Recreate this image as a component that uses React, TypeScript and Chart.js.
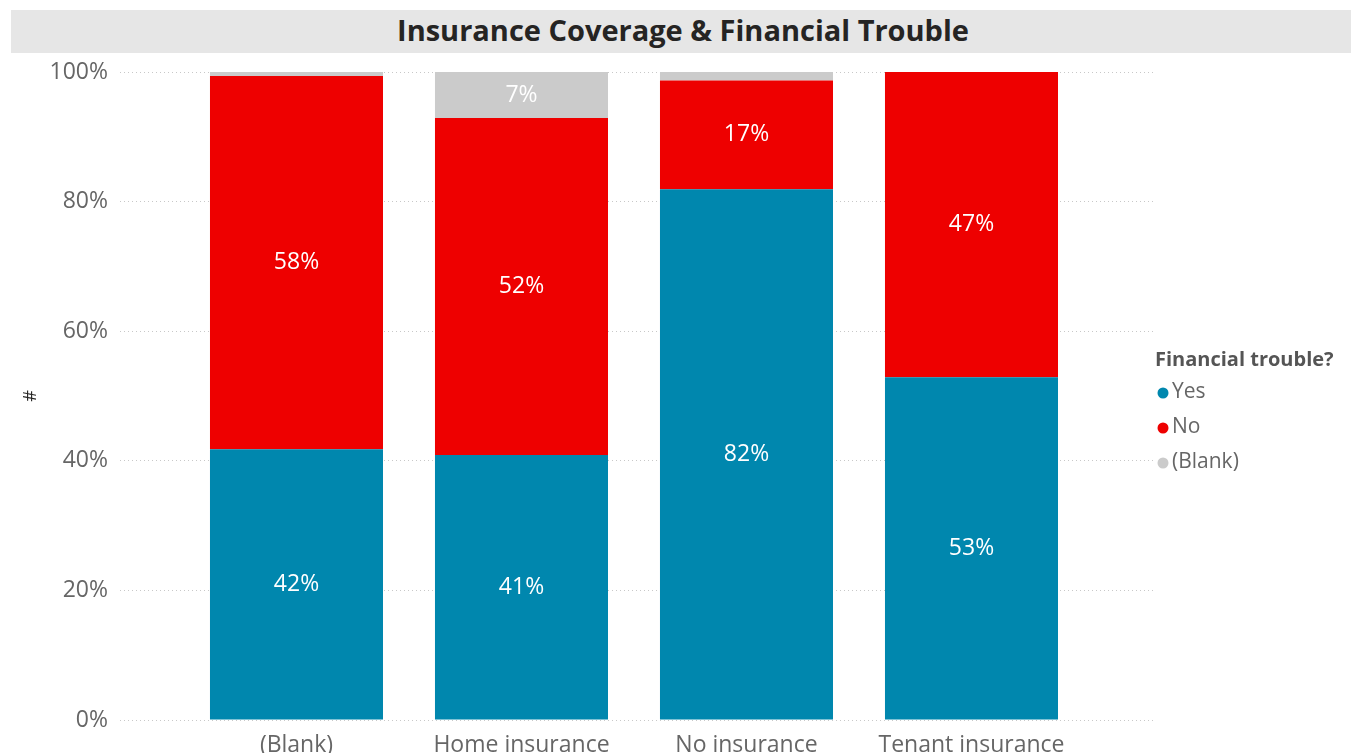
import React, { useEffect, useRef } from 'react';
import { Chart, registerables } from 'chart.js';

Chart.register(...registerables);

const chartTitle = 'Insurance Coverage & Financial Trouble';
const legendTitle = 'Financial trouble?';
const yAxisTitle = '#';
const categories = ['(Blank)', 'Home insurance', 'No insurance', 'Tenant insurance'];
const seriesNames = ['Yes', 'No', '(Blank)'];
const yesValues = [41.8, 40.9, 81.9, 52.9];
const noValues = [57.6, 52.0, 16.8, 47.1];
const blankValues = [0.6, 7.1, 1.3, 0];
const seriesColors = ['#0087AE', '#EE0000', '#CBCBCB'];
const yTicks = [0, 20, 40, 60, 80, 100];

const FONT = '"Segoe UI", "Open Sans", sans-serif';

const dataLabelPlugin = {
  id: 'dataLabels',
  afterDatasetsDraw(chart: any) {
    const ctx = chart.ctx;
    ctx.save();
    ctx.font = `23px ${FONT}`;
    ctx.fillStyle = '#FFFFFF';
    ctx.textAlign = 'center';
    ctx.textBaseline = 'middle';
    chart.data.datasets.forEach((ds: any, i: number) => {
      const meta = chart.getDatasetMeta(i);
      meta.data.forEach((el: any, j: number) => {
        const v = ds.data[j].y;
        if (v < 5) return;
        const cy = (el.y + el.base) / 2;
        ctx.fillText(Math.round(v) + '%', el.x, cy);
      });
    });
    ctx.restore();
  },
};

const legendPlugin = {
  id: 'customLegend',
  afterDraw(chart: any) {
    const ctx = chart.ctx;
    const x0 = chart.chartArea.right;
    ctx.save();
    ctx.textBaseline = 'middle';
    ctx.textAlign = 'left';
    ctx.font = `bold 20px ${FONT}`;
    ctx.fillStyle = '#555555';
    ctx.fillText(legendTitle, x0, 307);
    ctx.font = `21px ${FONT}`;
    seriesNames.forEach((name, i) => {
      const cy = 339 + i * 35;
      ctx.beginPath();
      ctx.arc(x0 + 8, cy + 1, 5.5, 0, Math.PI * 2);
      ctx.fillStyle = seriesColors[i];
      ctx.fill();
      ctx.fillStyle = '#666666';
      ctx.fillText(name, x0 + 17, cy);
    });
    ctx.restore();
  },
};

export default function App() {
  const canvasRef = useRef<HTMLCanvasElement | null>(null);

  useEffect(() => {
    if (!canvasRef.current) return;
    const seriesValues = [yesValues, noValues, blankValues];
    const chart = new Chart(canvasRef.current, {
      type: 'bar',
      data: {
        datasets: seriesNames.map((name, i) => ({
          label: name,
          data: seriesValues[i].map((v, j) => ({ x: j, y: v })),
          backgroundColor: seriesColors[i],
          borderWidth: 0,
          barPercentage: 1,
          categoryPercentage: 0.769,
        })),
      },
      options: {
        animation: false,
        responsive: false,
        maintainAspectRatio: false,
        layout: { padding: { left: 16, right: 196, top: 19, bottom: 0 } },
        plugins: {
          legend: { display: false },
          title: { display: false },
          tooltip: { enabled: false },
        },
        scales: {
          x: {
            type: 'linear',
            stacked: true,
            offset: false,
            bounds: 'ticks',
            min: -0.7844,
            max: 3.8156,
            grid: { display: false },
            border: { display: false },
            afterBuildTicks: (s: any) => {
              s.ticks = categories.map((_, i) => ({ value: i }));
            },
            afterFit: (s: any) => {
              s.height = 33;
              s.paddingLeft = 0;
              s.paddingRight = 0;
            },
            ticks: {
              autoSkip: false,
              maxRotation: 0,
              minRotation: 0,
              padding: 4,
              color: '#666666',
              font: { family: FONT, size: 23 },
              callback: (v: any) => categories[v] ?? '',
            },
          },
          y: {
            stacked: true,
            min: 0,
            max: 100,
            afterBuildTicks: (s: any) => {
              s.ticks = yTicks.map((v) => ({ value: v }));
            },
            afterFit: (s: any) => {
              s.width = 104;
              s.paddingTop = 0;
              s.paddingBottom = 0;
            },
            grid: {
              color: '#C8C8C8',
              lineWidth: 1,
              drawTicks: false,
            },
            border: { display: false, dash: [1, 3] },
            ticks: {
              padding: 12,
              color: '#666666',
              font: { family: FONT, size: 23 },
              callback: (v: any) => v + '%',
            },
            title: {
              display: true,
              text: yAxisTitle,
              color: '#252423',
              font: { family: FONT, size: 18 },
              padding: { top: 4, bottom: 4 },
            },
          },
        },
      },
      plugins: [dataLabelPlugin, legendPlugin],
    } as any);
    return () => chart.destroy();
  }, []);

  return (
    <div style={{ position: 'fixed', left: 0, top: 0, width: 1351, height: 753, overflow: 'hidden', background: '#fff' }}>
      <div
        style={{
          position: 'absolute',
          left: 11,
          top: 10,
          width: 1340,
          height: 43,
          background: '#E6E6E6',
          display: 'flex',
          alignItems: 'center',
          justifyContent: 'center',
          fontFamily: FONT,
          fontWeight: 700,
          fontSize: 29,
          color: '#252423',
        }}
      >
        <span style={{ position: 'relative', left: 2, top: -2 }}>{chartTitle}</span>
      </div>
      <canvas
        ref={canvasRef}
        width={1351}
        height={700}
        style={{ position: 'absolute', left: 0, top: 53, width: 1351, height: 700 }}
      />
    </div>
  );
}
